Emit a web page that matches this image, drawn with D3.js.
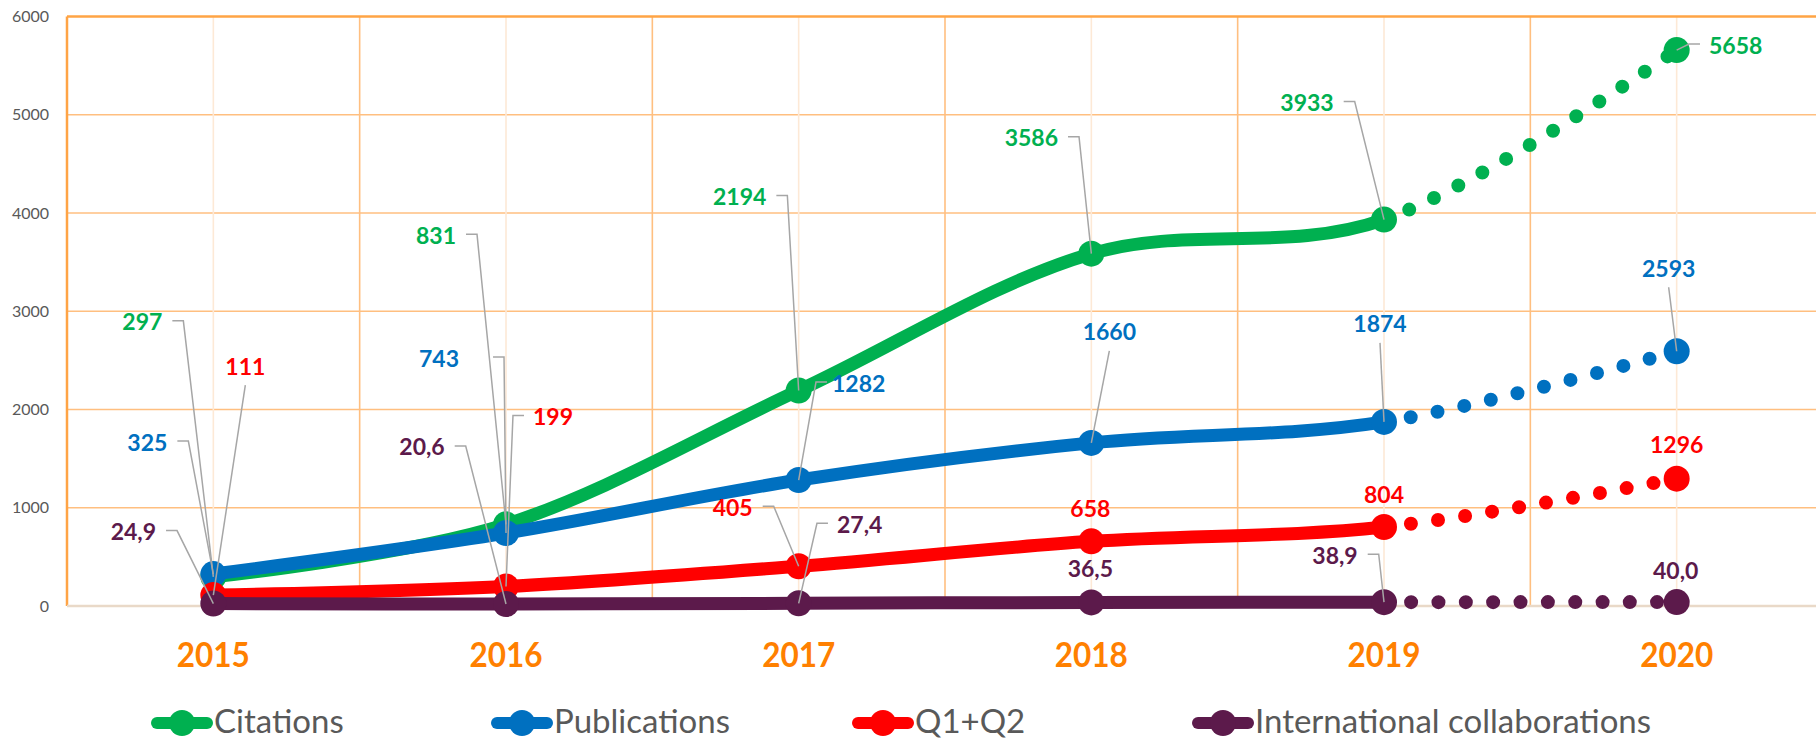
<!DOCTYPE html>
<html>
<head>
<meta charset="utf-8">
<script src="https://cdn.jsdelivr.net/npm/d3@7"></script>
<style>
    html, body { margin: 0; padding: 0; background: #ffffff; }
    #chart { width: 1816px; height: 740px; }
    #chart text { font-family: Lato, "Open Sans", sans-serif; }
</style>
</head>
<body>
<div id="chart"></div>
<script>
// Chart data
const years = ["2015", "2016", "2017", "2018", "2019", "2020"];
const citations = [297, 831, 2194, 3586, 3933, 5658];
const publications = [325, 743, 1282, 1660, 1874, 2593];
const q1q2 = [111, 199, 405, 658, 804, 1296];
const collaborations = [24.9, 20.6, 27.4, 36.5, 38.9, 40.0];
const yTicks = [0, 1000, 2000, 3000, 4000, 5000, 6000];
const seriesNames = ["Citations", "Publications", "Q1+Q2", "International collaborations"];
const seriesValues = [citations, publications, q1q2, collaborations];
const forecastYear = "2019"; // segment after this year is drawn dotted

document.addEventListener('DOMContentLoaded', function() {
    const colors = ["#00b050", "#0070c0", "#ff0000", "#5c1a4b"];
    const decimals = [0, 0, 0, 1];

    // label offsets from the point: [dx, dy, leader side, gap]
    const labelLayout = [
        [[-71, -255, "r"], [-70, -289, "r"], [-59, -194, "r"], [-60, -116, "r"], [-77, -117, "r"], [59, -5, "l"]],
        [[-66, -132, "r"], [-67, -175, "r", 34], [60, -97, "l", 5], [18, -111, "b"], [-4, -98, "b"], [-8, -83, "b"]],
        [[32, -229, "b"], [47, -170, "l"], [-66, -59, "r"], [-1, -33, ""], [0, -33, ""], [0, -34, ""]],
        [[-80, -72, "r"], [-84, -157, "r"], [61, -79, "l"], [-1, -34, ""], [-49, -47, "r"], [-1, -32, ""]]
    ];
    const legendX = [182, 522, 883, 1223];

    const width = 1816, height = 740;
    const plot = {left: 67, right: 1823, top: 16.5, bottom: 606};

    const svg = d3.select("#chart")
        .append("svg")
        .attr("width", width)
        .attr("height", height);

    // Scales
    const x = d3.scaleBand()
        .domain(years)
        .range([plot.left, plot.right]);
    const cx = yr => x(yr) + x.bandwidth() / 2;

    const y = d3.scaleLinear()
        .domain([0, 6000])
        .range([plot.bottom, plot.top]);

    const fmt = d3.formatLocale({decimal: ",", thousands: "", grouping: [3], currency: ["", ""]});

    // Grid
    const grid = svg.append("g");
    grid.selectAll(".hgrid")
        .data(yTicks.filter(t => t > 0 && t < 6000))
        .enter().append("line")
        .attr("x1", plot.left).attr("x2", plot.right)
        .attr("y1", d => y(d)).attr("y2", d => y(d))
        .attr("stroke", "#ffbf80")
        .attr("stroke-width", 1.6);

    // faint lines through the categories
    grid.selectAll(".vcenter")
        .data(years)
        .enter().append("line")
        .attr("x1", d => cx(d)).attr("x2", d => cx(d))
        .attr("y1", plot.top).attr("y2", plot.bottom)
        .attr("stroke", "#fde9d6")
        .attr("stroke-width", 1.6);

    // lines between the categories
    grid.selectAll(".vbound")
        .data(years.slice(1))
        .enter().append("line")
        .attr("x1", d => x(d)).attr("x2", d => x(d))
        .attr("y1", plot.top).attr("y2", plot.bottom)
        .attr("stroke", "#ffbf80")
        .attr("stroke-width", 1.6);

    // top border, left axis, base line
    grid.append("line")
        .attr("x1", plot.left).attr("x2", plot.right)
        .attr("y1", y(6000)).attr("y2", y(6000))
        .attr("stroke", "#ffa445").attr("stroke-width", 2.5);
    grid.append("line")
        .attr("x1", plot.left).attr("x2", plot.left)
        .attr("y1", plot.top).attr("y2", plot.bottom)
        .attr("stroke", "#ffa445").attr("stroke-width", 2.5);
    grid.append("line")
        .attr("x1", plot.left).attr("x2", plot.right)
        .attr("y1", y(0)).attr("y2", y(0))
        .attr("stroke", "#e9d9c8").attr("stroke-width", 2.5);

    // Y tick labels
    svg.append("g")
        .selectAll("text")
        .data(yTicks)
        .enter().append("text")
        .attr("x", 49)
        .attr("y", d => y(d) + 5.5)
        .attr("text-anchor", "end")
        .style("font-size", "16px")
        .attr("fill", "#595959")
        .text(d => d);

    // X category labels
    svg.append("g")
        .selectAll("text")
        .data(years)
        .enter().append("text")
        .attr("transform", d => `translate(${cx(d)},667) scale(0.9,1)`)
        .attr("text-anchor", "middle")
        .style("font-size", "35px")
        .style("font-weight", "bold")
        .attr("fill", "#ff8000")
        .text(d => d);

    // Lines
    const line = d3.line()
        .x((d, i) => cx(years[i]))
        .y(d => y(d))
        .curve(d3.curveCatmullRom.alpha(0));

    const splitX = cx(forecastYear);
    svg.append("clipPath")
        .attr("id", "forecast-clip")
        .append("rect")
        .attr("x", splitX + 1).attr("y", 0)
        .attr("width", width - splitX).attr("height", height);

    function lengthAtX(node, targetX) {
        let lo = 0, hi = node.getTotalLength();
        for (let k = 0; k < 40; k++) {
            const mid = (lo + hi) / 2;
            if (node.getPointAtLength(mid).x < targetX) lo = mid; else hi = mid;
        }
        return lo;
    }

    const dotStep = 27.3;
    seriesValues.forEach((values, s) => {
        const g = svg.append("g");

        const solid = g.append("path")
            .attr("d", line(values))
            .attr("fill", "none")
            .attr("stroke", colors[s])
            .attr("stroke-width", 13)
            .attr("stroke-linejoin", "round");

        const total = solid.node().getTotalLength();
        const split = lengthAtX(solid.node(), splitX);
        solid.attr("stroke-dasharray", `${split} ${total + 20}`);

        // dotted forecast segment
        g.append("path")
            .attr("d", line(values))
            .attr("fill", "none")
            .attr("stroke", colors[s])
            .attr("stroke-width", 14)
            .attr("stroke-linecap", "round")
            .attr("stroke-dasharray", `0 ${dotStep}`)
            .attr("stroke-dashoffset", dotStep - (split % dotStep))
            .attr("clip-path", "url(#forecast-clip)");

        g.selectAll("circle")
            .data(values)
            .enter().append("circle")
            .attr("cx", (d, i) => cx(years[i]))
            .attr("cy", d => y(d))
            .attr("r", 13)
            .attr("fill", colors[s]);
    });

    // Data labels with leader lines
    const labels = svg.append("g");
    seriesValues.forEach((values, s) => {
        values.forEach((v, i) => {
            const px = cx(years[i]), py = y(v);
            const [dx, dy, side, gap] = labelLayout[s][i];
            const lx = px + dx, ly = py + dy;

            const t = labels.append("text")
                .attr("x", lx)
                .attr("y", ly + 8.5)
                .attr("text-anchor", "middle")
                .style("font-size", "23px")
                .style("font-weight", "bold")
                .attr("fill", colors[s])
                .text(fmt.format(`.${decimals[s]}f`)(v));

            if (!side) return;
            const box = t.node().getBBox();
            let pts;
            if (side === "r") {
                const sx = box.x + box.width + (gap || 10);
                pts = [[sx, ly - 1], [sx + 11, ly - 1], [px, py]];
            } else if (side === "l") {
                const sx = box.x - (gap || 9);
                pts = [[sx, ly - 1], [sx - 11, ly - 1], [px, py]];
            } else {
                pts = [[lx, ly + 19], [px, py]];
            }
            labels.append("path")
                .attr("d", d3.line()(pts))
                .attr("fill", "none")
                .attr("stroke", "#a6a6a6")
                .attr("stroke-width", 1.5);
        });
    });

    // Legend
    const legend = svg.append("g")
        .attr("transform", "translate(0,723)");
    seriesNames.forEach((name, s) => {
        const item = legend.append("g")
            .attr("transform", `translate(${legendX[s]},0)`);
        item.append("line")
            .attr("x1", -25).attr("x2", 25)
            .attr("stroke", colors[s])
            .attr("stroke-width", 12)
            .attr("stroke-linecap", "round");
        item.append("circle")
            .attr("r", 13)
            .attr("fill", colors[s]);
        item.append("text")
            .attr("x", 32)
            .attr("y", 9.5)
            .style("font-size", "33px")
            .attr("fill", "#595959")
            .text(name);
    });
});
</script>
</body>
</html>
